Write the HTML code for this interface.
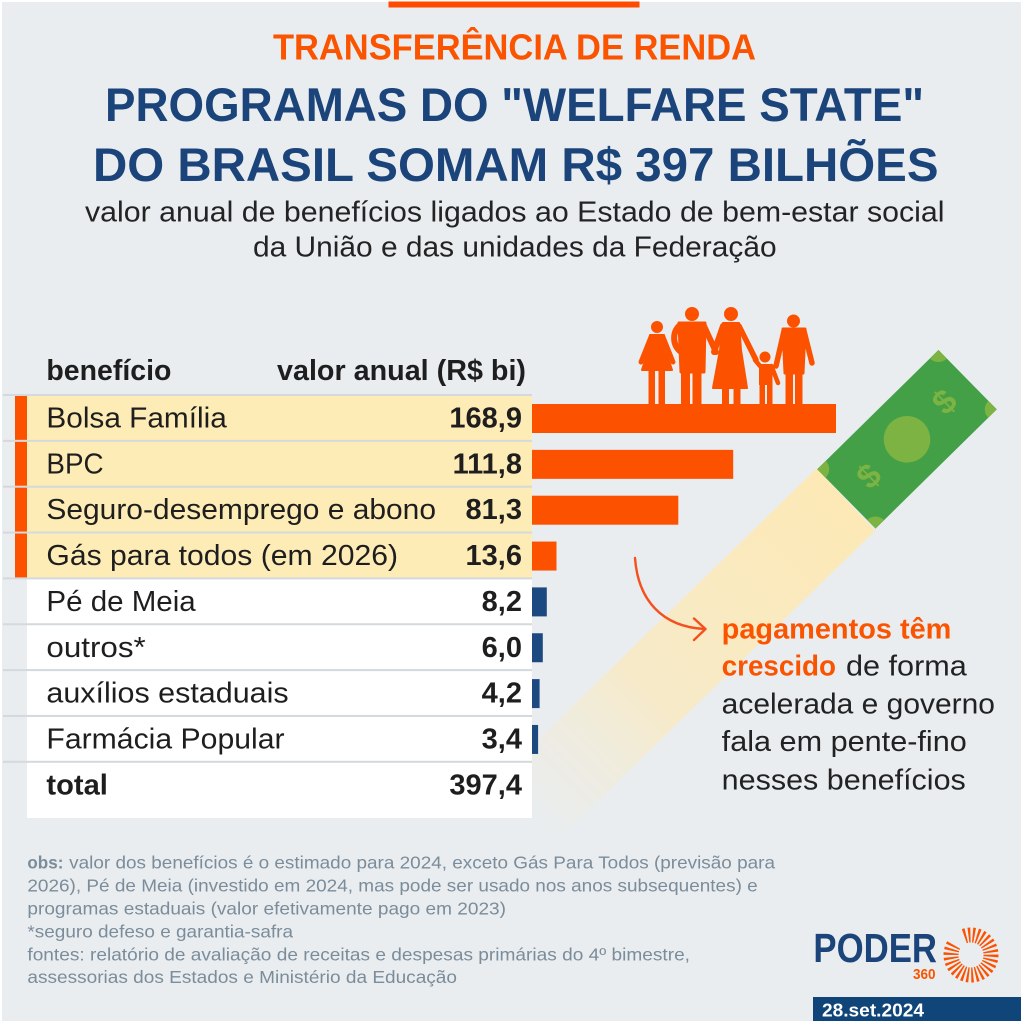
<!DOCTYPE html>
<html><head><meta charset="utf-8"><style>
html,body{margin:0;padding:0;background:#fff;}
svg{display:block;}
text{font-family:"Liberation Sans",Arial,sans-serif;}
</style></head><body>
<svg width="1024" height="1024" viewBox="0 0 1024 1024" xmlns="http://www.w3.org/2000/svg">
<defs>
<linearGradient id="beam" gradientUnits="userSpaceOnUse" x1="846" y1="500" x2="520" y2="815">
<stop offset="0" stop-color="#fde9b6" stop-opacity="1"/>
<stop offset="0.6" stop-color="#fbe9bb" stop-opacity="0.75"/>
<stop offset="1" stop-color="#f5ecd0" stop-opacity="0"/>
</linearGradient>
</defs>
<rect x="0" y="0" width="1024" height="1024" fill="#ffffff"/>
<rect x="2" y="2" width="1019" height="1019" fill="#e9edf0"/>
<rect x="388.5" y="1.5" width="251" height="6" fill="#ff4a00"/>

<!-- titles -->
<text x="273" y="59.3" font-size="36" font-weight="bold" fill="#fa5400" textLength="483" lengthAdjust="spacingAndGlyphs">TRANSFERÊNCIA DE RENDA</text>
<text x="105" y="121" font-size="47" font-weight="bold" fill="#1b447b" textLength="819" lengthAdjust="spacingAndGlyphs">PROGRAMAS DO "WELFARE STATE"</text>
<text x="93" y="181" font-size="47" font-weight="bold" fill="#1b447b" textLength="845.5" lengthAdjust="spacingAndGlyphs">DO BRASIL SOMAM R$ 397 BILHÕES</text>
<text x="85" y="221.5" font-size="29" fill="#232323" textLength="859.5" lengthAdjust="spacingAndGlyphs">valor anual de benefícios ligados ao Estado de bem-estar social</text>
<text x="253" y="256.5" font-size="29" fill="#232323" textLength="523.6" lengthAdjust="spacingAndGlyphs">da União e das unidades da Federação</text>

<!-- beam -->
<polygon points="816.7,468.3 875,530.7 553,845 494.5,782" fill="url(#beam)"/>

<!-- table -->
<rect x="27" y="395" width="505" height="183.4" fill="#feecb6"/>
<rect x="27" y="578.4" width="505" height="239.6" fill="#ffffff"/>
<g fill="#d3d9de">
<rect x="3" y="394" width="529" height="2"/>
<rect x="3" y="439.85" width="529" height="2"/>
<rect x="3" y="485.7" width="529" height="2"/>
<rect x="3" y="531.55" width="529" height="2"/>
<rect x="3" y="577.4" width="529" height="2"/>
<rect x="3" y="623.25" width="529" height="2"/>
<rect x="3" y="669.1" width="529" height="2"/>
<rect x="3" y="714.95" width="529" height="2"/>
<rect x="3" y="760.8" width="529" height="2"/>
</g>
<g fill="#fc5200">
<rect x="15" y="396" width="12" height="43.85"/>
<rect x="15" y="441.85" width="12" height="43.85"/>
<rect x="15" y="487.7" width="12" height="43.85"/>
<rect x="15" y="533.55" width="12" height="43.85"/>
</g>

<text x="46.4" y="380" font-size="28.5" font-weight="bold" fill="#1e1e1e" textLength="125" lengthAdjust="spacingAndGlyphs">benefício</text>
<text x="277" y="380" font-size="28.5" font-weight="bold" fill="#1e1e1e" textLength="249" lengthAdjust="spacingAndGlyphs">valor anual (R$ bi)</text>

<g font-size="29" fill="#1e1e1e">
<text x="46.4" y="427.5" textLength="180.4" lengthAdjust="spacingAndGlyphs">Bolsa Família</text>
<text x="46.4" y="473.35" textLength="57.2" lengthAdjust="spacingAndGlyphs">BPC</text>
<text x="46.4" y="519.2" textLength="389.6" lengthAdjust="spacingAndGlyphs">Seguro-desemprego e abono</text>
<text x="46.4" y="565.05" textLength="351.6" lengthAdjust="spacingAndGlyphs">Gás para todos (em 2026)</text>
<text x="46.4" y="610.9" textLength="149.3" lengthAdjust="spacingAndGlyphs">Pé de Meia</text>
<text x="46.4" y="656.75" textLength="99.3" lengthAdjust="spacingAndGlyphs">outros*</text>
<text x="46.4" y="702.6" textLength="242.2" lengthAdjust="spacingAndGlyphs">auxílios estaduais</text>
<text x="46.4" y="748.45" textLength="238.2" lengthAdjust="spacingAndGlyphs">Farmácia Popular</text>
<text x="46.4" y="794.3" font-weight="bold" textLength="61.5" lengthAdjust="spacingAndGlyphs">total</text>
</g>
<g font-size="29" font-weight="bold" fill="#1e1e1e" text-anchor="end">
<text x="522" y="427.5">168,9</text>
<text x="522" y="473.35">111,8</text>
<text x="522" y="519.2">81,3</text>
<text x="522" y="565.05">13,6</text>
<text x="522" y="610.9">8,2</text>
<text x="522" y="656.75">6,0</text>
<text x="522" y="702.6">4,2</text>
<text x="522" y="748.45">3,4</text>
<text x="522" y="794.3">397,4</text>
</g>

<!-- bars -->
<g fill="#fc5200">
<rect x="532" y="404" width="304" height="29"/>
<rect x="532" y="449.85" width="201.2" height="29"/>
<rect x="532" y="495.7" width="146.3" height="29"/>
<rect x="532" y="541.55" width="24.5" height="29"/>
</g>
<g fill="#1c4a80">
<rect x="532" y="587.4" width="14.8" height="29"/>
<rect x="532" y="633.25" width="10.8" height="29"/>
<rect x="532" y="679.1" width="7.6" height="29"/>
<rect x="532" y="724.95" width="6.1" height="29"/>
</g>

<!-- family -->
<g fill="#fc5200" stroke="#fc5200" stroke-linecap="round" stroke-linejoin="round">
<!-- girl -->
<circle cx="657" cy="327" r="6" stroke="none"/>
<polygon points="650,335 664,335 666,352 672,370 642,370 648,352" stroke-width="2"/>
<line x1="651" y1="337" x2="641" y2="362" stroke-width="5" fill="none"/>
<line x1="663" y1="337" x2="673" y2="362" stroke-width="5" fill="none"/>
<rect x="648.5" y="368" width="6.5" height="36" stroke="none"/>
<rect x="658.5" y="368" width="6.5" height="36" stroke="none"/>
<!-- man 1 -->
<circle cx="692" cy="314" r="7" stroke="none"/>
<path d="M679,323 L705,323 L704,372 L681,372 Z" stroke-width="3"/>
<path d="M680,325 C672,332 672,345 681,352" stroke-width="6" fill="none"/>
<line x1="704" y1="326" x2="716" y2="352" stroke-width="6" fill="none"/>
<rect x="681" y="368" width="9" height="36" stroke="none"/>
<rect x="692.5" y="368" width="9" height="36" stroke="none"/>
<!-- woman -->
<circle cx="731" cy="314" r="7" stroke="none"/>
<polygon points="723,323 739,323 741,350 747,388 713,388 720,350" stroke-width="2"/>
<line x1="723" y1="326" x2="714" y2="352" stroke-width="6" fill="none"/>
<line x1="739" y1="326" x2="756" y2="360" stroke-width="5.5" fill="none"/>
<rect x="722" y="385" width="7" height="19" stroke="none"/>
<rect x="733.5" y="385" width="7" height="19" stroke="none"/>
<!-- child -->
<circle cx="765" cy="357" r="5.5" stroke="none"/>
<rect x="759" y="364" width="13.5" height="21" stroke="none"/>
<line x1="760" y1="366" x2="755" y2="360" stroke-width="4.5" fill="none"/>
<line x1="771.5" y1="366" x2="778" y2="383" stroke-width="4.5" fill="none"/>
<rect x="759.5" y="382" width="5.5" height="22" stroke="none"/>
<rect x="767" y="382" width="5.5" height="22" stroke="none"/>
<!-- man 2 -->
<circle cx="793.5" cy="321" r="6.5" stroke="none"/>
<path d="M783,329 L805,329 L803,373 L785,373 Z" stroke-width="3"/>
<line x1="784" y1="331" x2="776" y2="366" stroke-width="5.5" fill="none"/>
<line x1="804" y1="331" x2="812" y2="363" stroke-width="5.5" fill="none"/>
<rect x="785.5" y="370" width="7.5" height="34" stroke="none"/>
<rect x="795" y="370" width="7.5" height="34" stroke="none"/>
</g>

<!-- bill -->
<g transform="translate(907,439.3) rotate(-44.5)">
<clipPath id="billclip"><rect x="-85" y="-41.6" width="170" height="83.2"/></clipPath>
<rect x="-85" y="-41.6" width="170" height="83.2" fill="#43a047"/>
<g clip-path="url(#billclip)" fill="#7cb342">
<circle cx="-85" cy="-41.6" r="12"/>
<circle cx="85" cy="-41.6" r="12"/>
<circle cx="-85" cy="41.6" r="12"/>
<circle cx="85" cy="41.6" r="12"/>
</g>
<circle cx="0" cy="0" r="23.3" fill="#7cb342"/>
<text x="-53" y="11" font-size="34" font-weight="bold" fill="#7cb342" text-anchor="middle">$</text>
<text x="53" y="11" font-size="34" font-weight="bold" fill="#7cb342" text-anchor="middle">$</text>
</g>

<!-- arrow -->
<path d="M635,558 C638,600 662,627 705,629" fill="none" stroke="#f4511e" stroke-width="2.4" stroke-linecap="round"/>
<polyline points="694,618.5 705.5,629 694,640" fill="none" stroke="#f4511e" stroke-width="2.4" stroke-linecap="round" stroke-linejoin="round"/>

<!-- annotation -->
<g font-size="28.5">
<text x="721.7" y="638.5" font-weight="bold" fill="#fa5400" textLength="229.7" lengthAdjust="spacingAndGlyphs">pagamentos têm</text>
<text x="721.7" y="675.5" font-weight="bold" fill="#fa5400" textLength="114.3" lengthAdjust="spacingAndGlyphs">crescido</text>
<text x="846" y="675.5" fill="#222" textLength="120.8" lengthAdjust="spacingAndGlyphs">de forma</text>
<text x="721.7" y="713.3" fill="#222" textLength="273.3" lengthAdjust="spacingAndGlyphs">acelerada e governo</text>
<text x="721.7" y="751.1" fill="#222" textLength="245.1" lengthAdjust="spacingAndGlyphs">fala em pente-fino</text>
<text x="721.7" y="789.3" fill="#222" textLength="244.1" lengthAdjust="spacingAndGlyphs">nesses benefícios</text>
</g>

<!-- footnotes -->
<g font-size="17.5" fill="#7b8c9a">
<text x="27.4" y="868.5" font-weight="bold" textLength="36" lengthAdjust="spacingAndGlyphs">obs:</text>
<text x="69.2" y="868.5" textLength="705.8" lengthAdjust="spacingAndGlyphs">valor dos benefícios é o estimado para 2024, exceto Gás Para Todos (previsão para</text>
<text x="27.4" y="891.5" textLength="730.3" lengthAdjust="spacingAndGlyphs">2026), Pé de Meia (investido em 2024, mas pode ser usado nos anos subsequentes) e</text>
<text x="27.4" y="914.5" textLength="478.6" lengthAdjust="spacingAndGlyphs">programas estaduais (valor efetivamente pago em 2023)</text>
<text x="27.4" y="937.5" textLength="265.6" lengthAdjust="spacingAndGlyphs">*seguro defeso e garantia-safra</text>
<text x="27.4" y="960.3" textLength="662.6" lengthAdjust="spacingAndGlyphs">fontes: relatório de avaliação de receitas e despesas primárias do 4º bimestre,</text>
<text x="27.4" y="983" textLength="429.6" lengthAdjust="spacingAndGlyphs">assessorias dos Estados e Ministério da Educação</text>
</g>

<!-- logo -->
<text x="813.4" y="962" font-size="41" font-weight="bold" fill="#1b447b" textLength="123.6" lengthAdjust="spacingAndGlyphs">PODER</text>
<text x="913" y="979" font-size="14.5" font-weight="bold" fill="#fa5400" textLength="22.5" lengthAdjust="spacingAndGlyphs">360</text>
<path d="M953.68,945 A20,20 0 1 0 962.55,936.87" fill="none" stroke="#fc5200" stroke-width="15" stroke-dasharray="2 2.2"/>

<rect x="813" y="997" width="208" height="24" fill="#0f4578"/>
<text x="822" y="1016.5" font-size="18" font-weight="bold" fill="#ffffff" textLength="102" lengthAdjust="spacingAndGlyphs">28.set.2024</text>
</svg>
</body></html>
